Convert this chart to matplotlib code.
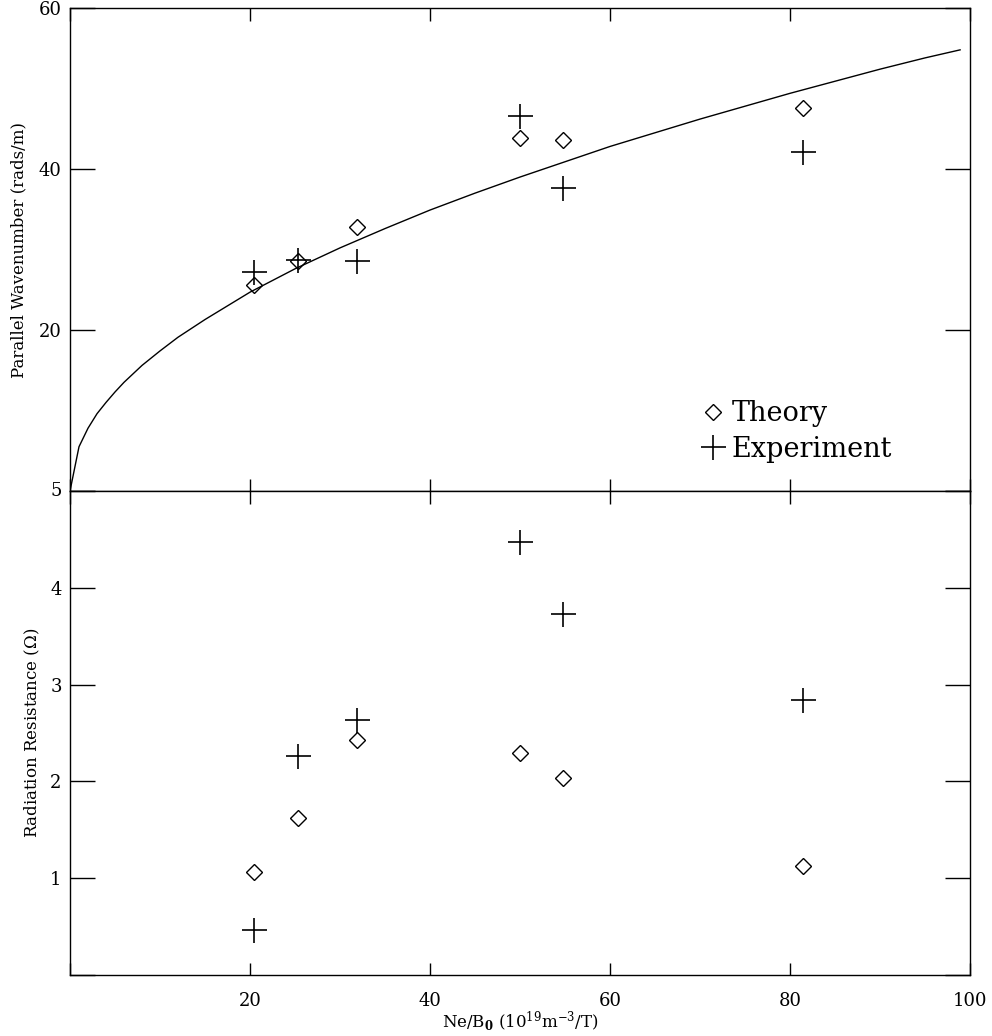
import matplotlib.pyplot as plt
from matplotlib.lines import Line2D

# density over field, Ne/B0 (1e19 m^-3 / T)
ne_b0 = [20.4, 25.3, 31.9, 50.0, 54.8, 81.4]

# parallel wavenumber (rads/m)
k_theory = [25.6, 28.6, 32.8, 43.9, 43.6, 47.6]
k_experiment = [27.2, 28.7, 28.6, 46.6, 37.6, 42.1]

# radiation resistance (ohm)
r_theory = [1.06, 1.62, 2.43, 2.29, 2.03, 1.13]
r_experiment = [0.46, 2.26, 2.63, 4.47, 3.73, 2.84]

# model curve
curve_x = [0, 1, 2, 3, 4, 5, 6, 8, 10, 12, 15, 20, 25, 30, 35, 40, 45,
           50, 55, 60, 65, 70, 75, 80, 85, 90, 95, 98.9]
curve_k = [0, 5.5, 7.8, 9.6, 11.0, 12.3, 13.5, 15.6, 17.4, 19.1, 21.3,
           24.7, 27.6, 30.2, 32.6, 34.9, 37.0, 39.0, 40.9, 42.8, 44.5,
           46.2, 47.8, 49.4, 50.9, 52.4, 53.8, 54.8]

x_ticks = [0, 20, 40, 60, 80, 100]
x_labels = ['', '20', '40', '60', '80', '100']
k_ticks = [0, 20, 40, 60]
k_labels = ['', '20', '40', '60']
r_ticks = [0, 1, 2, 3, 4, 5]
r_labels = ['', '1', '2', '3', '4', '5']

plt.rcParams['font.family'] = 'DejaVu Serif'
plt.rcParams['mathtext.fontset'] = 'dejavuserif'

fig = plt.figure(figsize=(9.92, 10.36), dpi=100)
ax1 = fig.add_axes([70 / 992, 1 - 491 / 1036, 900 / 992, 483 / 1036])
ax2 = fig.add_axes([70 / 992, 1 - 975 / 1036, 900 / 992, 484 / 1036])

diamond = dict(marker='D', ms=8.5, mfc='none', mec='black', mew=1.0, ls='none')
plus = dict(marker='+', ms=18, mec='black', mew=1.2, ls='none')

ax1.plot(curve_x, curve_k, color='black', lw=1.0)
ax1.plot(ne_b0, k_theory, **diamond)
ax1.plot(ne_b0, k_experiment, **plus)

ax2.plot(ne_b0, r_theory, **diamond)
ax2.plot(ne_b0, r_experiment, **plus)

ax1.set_xlim(0, 100)
ax1.set_ylim(0, 60)
ax2.set_xlim(0, 100)
ax2.set_ylim(0, 5)

for ax in (ax1, ax2):
    ax.set_xticks(x_ticks)
    ax.tick_params(direction='in', top=True, right=True, labelsize=13,
                   width=1.0, color='black', pad=6)
    ax.tick_params(axis='x', length=9, pad=12)
    ax.tick_params(axis='y', length=18)
    for s in ax.spines.values():
        s.set_linewidth(1.0)

ax1.set_xticklabels([])
ax1.set_yticks(k_ticks)
ax1.set_yticklabels(k_labels)
ax2.set_xticklabels(x_labels)
ax2.set_yticks(r_ticks)
ax2.set_yticklabels(r_labels)
# the 5 of the lower panel sits on the shared border
ax2.get_yticklabels()[-1].set_verticalalignment('center')

ax1.set_ylabel('Parallel Wavenumber (rads/m)', fontsize=12, labelpad=8)
ax2.set_ylabel('Radiation Resistance ($\\Omega$)', fontsize=12, labelpad=6)
ax2.set_xlabel('Ne/B$_\\mathbf{0}$ (10$^{19}$m$^{-3}$/T)', fontsize=12, labelpad=0)

handles = [Line2D([], [], **diamond), Line2D([], [], **plus)]
ax1.legend(handles, ['Theory', 'Experiment'], loc='upper left',
           bbox_to_anchor=(0.69, 0.21), frameon=False, fontsize=19.5,
           handlelength=0.8, handletextpad=0.3, labelspacing=0.3,
           borderaxespad=0)

fig.savefig('out.png', dpi=100)
